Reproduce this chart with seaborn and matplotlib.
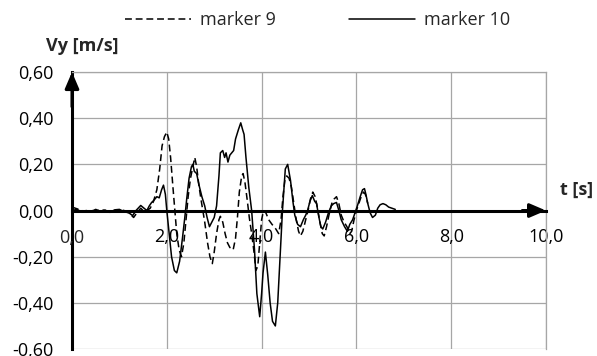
import matplotlib
matplotlib.use("Agg")
import matplotlib.pyplot as plt
import matplotlib.ticker as mticker
import numpy as np
import pandas as pd
import seaborn as sns

# marker 9 (dashed): time [s] and vertical velocity [m/s]
t_m9 = [0.0, 0.1, 0.2, 0.3, 0.4, 0.5, 0.6, 0.7, 0.8, 0.9, 1.0, 1.1, 1.2, 1.3, 1.37,
        1.45, 1.52, 1.58, 1.65, 1.72, 1.79, 1.85, 1.9, 1.95, 2.0, 2.04, 2.08, 2.13,
        2.17, 2.21, 2.26, 2.31, 2.36, 2.41, 2.45, 2.5, 2.55, 2.59, 2.63, 2.67, 2.72,
        2.76, 2.8, 2.86, 2.91, 2.96, 3.0, 3.05, 3.1, 3.13, 3.18, 3.23, 3.28, 3.33,
        3.4, 3.45, 3.49, 3.53, 3.58, 3.61, 3.65, 3.7, 3.74, 3.79, 3.84, 3.88, 3.92,
        3.96, 4.0, 4.04, 4.09, 4.15, 4.22, 4.3, 4.36, 4.41, 4.45, 4.49, 4.53, 4.58,
        4.63, 4.68, 4.73, 4.78, 4.82, 4.87, 4.93, 4.98, 5.03, 5.08, 5.13, 5.18, 5.23,
        5.28, 5.32, 5.37, 5.42, 5.48, 5.53, 5.58, 5.63, 5.68, 5.74, 5.8, 5.86, 5.9,
        5.95, 6.0, 6.05, 6.1, 6.15, 6.19, 6.24]
v_m9 = [0.015, 0.008, 0.0, -0.005, 0.002, -0.004, 0.004, 0.0, -0.01, -0.003, 0.004,
        0.0, -0.01, -0.03, -0.01, 0.01, -0.005, 0.0, 0.01, 0.04, 0.09, 0.18, 0.28,
        0.32, 0.34, 0.31, 0.23, 0.10, 0.0, -0.10, -0.17, -0.20, -0.14, -0.03, 0.06,
        0.14, 0.19, 0.23, 0.19, 0.12, 0.05, 0.0, -0.05, -0.14, -0.20, -0.23, -0.18,
        -0.10, -0.04, -0.025, -0.05, -0.10, -0.14, -0.16, -0.17, -0.12, -0.03, 0.08,
        0.15, 0.16, 0.12, 0.04, -0.03, -0.10, -0.18, -0.26, -0.24, -0.14, -0.04, 0.0,
        -0.01, -0.04, -0.06, -0.08, -0.10, -0.04, 0.06, 0.13, 0.15, 0.14, 0.10, 0.03,
        -0.04, -0.09, -0.11, -0.09, -0.04, 0.0, 0.05, 0.08, 0.06, 0.01, -0.05, -0.10,
        -0.11, -0.07, -0.02, 0.03, 0.05, 0.06, 0.03, -0.02, -0.05, -0.07, -0.10,
        -0.09, -0.04, 0.0, 0.03, 0.06, 0.08, 0.07, 0.03]

# marker 10 (solid)
t_m10 = [0.0, 0.1, 0.2, 0.3, 0.4, 0.5, 0.6, 0.7, 0.8, 0.9, 1.0, 1.1, 1.2, 1.28, 1.35,
         1.45, 1.52, 1.58, 1.63, 1.68, 1.73, 1.79, 1.84, 1.89, 1.93, 1.97, 2.0, 2.05,
         2.1, 2.16, 2.21, 2.27, 2.33, 2.38, 2.42, 2.47, 2.52, 2.55, 2.58, 2.63, 2.68,
         2.74, 2.8, 2.85, 2.9, 2.95, 3.0, 3.05, 3.1, 3.13, 3.18, 3.22, 3.25, 3.29,
         3.33, 3.37, 3.41, 3.45, 3.51, 3.56, 3.6, 3.63, 3.67, 3.73, 3.79, 3.85, 3.9,
         3.96, 4.0, 4.03, 4.08, 4.13, 4.18, 4.23, 4.29, 4.34, 4.38, 4.44, 4.5, 4.55,
         4.61, 4.66, 4.7, 4.76, 4.82, 4.88, 4.93, 4.97, 5.02, 5.07, 5.12, 5.16, 5.2,
         5.25, 5.29, 5.35, 5.41, 5.47, 5.52, 5.58, 5.63, 5.68, 5.75, 5.81, 5.86, 5.92,
         5.97, 6.02, 6.08, 6.13, 6.17, 6.2, 6.24, 6.29, 6.34, 6.4, 6.45, 6.5, 6.56,
         6.62, 6.68, 6.75, 6.82]
v_m10 = [0.0, 0.005, -0.005, 0.0, -0.005, 0.005, -0.003, 0.002, -0.008, 0.003, 0.005,
         -0.005, -0.01, -0.022, 0.0, 0.022, 0.01, 0.0, 0.02, 0.035, 0.045, 0.06, 0.055,
         0.09, 0.11, 0.07, 0.0, -0.10, -0.20, -0.26, -0.27, -0.22, -0.12, -0.03, 0.05,
         0.14, 0.19, 0.20, 0.17, 0.16, 0.11, 0.06, 0.02, -0.03, -0.07, -0.05, -0.03,
         0.02, 0.15, 0.25, 0.26, 0.23, 0.25, 0.21, 0.24, 0.25, 0.26, 0.31, 0.35, 0.38,
         0.35, 0.33, 0.23, 0.10, 0.0, -0.17, -0.36, -0.46, -0.36, -0.27, -0.18, -0.28,
         -0.40, -0.48, -0.50, -0.40, -0.24, 0.0, 0.18, 0.20, 0.13, 0.04, -0.02, -0.06,
         -0.07, -0.04, -0.02, 0.0, 0.04, 0.065, 0.04, 0.03, -0.02, -0.07, -0.08, -0.05,
         -0.01, 0.02, 0.03, 0.035, 0.0, -0.04, -0.07, -0.09, -0.06, -0.04, -0.01, 0.02,
         0.06, 0.09, 0.095, 0.07, 0.03, -0.01, -0.03, -0.02, 0.01, 0.025, 0.03, 0.025,
         0.015, 0.01, 0.005]

series_names = ["marker 9", "marker 10"]
x_ticks = [0, 2, 4, 6, 8, 10]
y_ticks = [-0.6, -0.4, -0.2, 0.0, 0.2, 0.4, 0.6]

sns.set_style("white")
plt.rcParams["font.family"] = ["Open Sans", "DejaVu Sans"]
FS = 13

df9 = pd.DataFrame({"t": t_m9, "v": v_m9})
df10 = pd.DataFrame({"t": t_m10, "v": v_m10})

fig = plt.figure(figsize=(5.97, 3.56), dpi=100)
ax = fig.add_axes([0.1206, 0.0196, 0.794, 0.778])

sns.lineplot(data=df9, x="t", y="v", ax=ax, color="black", lw=1.1,
             linestyle=(0, (4.5, 2.5)), label=series_names[0], sort=False)
sns.lineplot(data=df10, x="t", y="v", ax=ax, color="black", lw=1.1,
             label=series_names[1], sort=False)

ax.set_xlim(0, 10)
ax.set_ylim(-0.6, 0.6)
ax.set_xticks(x_ticks)
ax.set_yticks(y_ticks)
ax.xaxis.set_major_formatter(mticker.FuncFormatter(
    lambda v, p: "" if v == 0 else f"{v:.1f}".replace(".", ",")))
ax.yaxis.set_major_formatter(mticker.FuncFormatter(
    lambda v, p: f"{v:.2f}".replace(".", ",").replace("−", "-")))
ax.set_xlabel("")
ax.set_ylabel("")

grid_col = "#a6a6a6"
ax.grid(True, color=grid_col, lw=0.9)
ax.set_axisbelow(True)

# axes through the origin
ax.spines["bottom"].set_position(("data", 0))
for s in ("bottom", "left"):
    ax.spines[s].set_color("black")
    ax.spines[s].set_linewidth(2.2)
for s in ("top", "right"):
    ax.spines[s].set_color(grid_col)
    ax.spines[s].set_linewidth(0.9)

ax.tick_params(axis="y", direction="out", length=4.3, width=1.5, pad=9,
               labelsize=FS, colors="black")
ax.tick_params(axis="x", direction="out", length=3, width=1.5, pad=9.5,
               labelsize=FS, colors="black")
ax.annotate("0,0", xy=(0, 0), xytext=(0, -13), textcoords="offset points",
            ha="center", va="top", fontsize=FS)

arrow = dict(arrowstyle="-|>,head_length=0.7,head_width=0.3", color="black",
             lw=2.2, mutation_scale=14, shrinkA=0, shrinkB=0)
ax.annotate("", xy=(0, 0.6), xytext=(0, 0.45), arrowprops=arrow,
            annotation_clip=False)
ax.annotate("", xy=(10, 0), xytext=(9.5, 0), arrowprops=arrow,
            annotation_clip=False)

fig.text(0.137, 0.871, "Vy [m/s]", ha="center", va="center",
         fontsize=FS, fontweight="bold")
fig.text(0.966, 0.466, "t [s]", ha="center", va="center",
         fontsize=FS, fontweight="bold")

ax.legend_.remove()
handles, labels = ax.get_legend_handles_labels()
fig.legend(handles, labels, loc="center", bbox_to_anchor=(0.532, 0.944),
           ncol=2, frameon=False, fontsize=FS, handlelength=3.7,
           handletextpad=0.5, columnspacing=4.0, borderaxespad=0)

fig.savefig("out.png", dpi=100)
